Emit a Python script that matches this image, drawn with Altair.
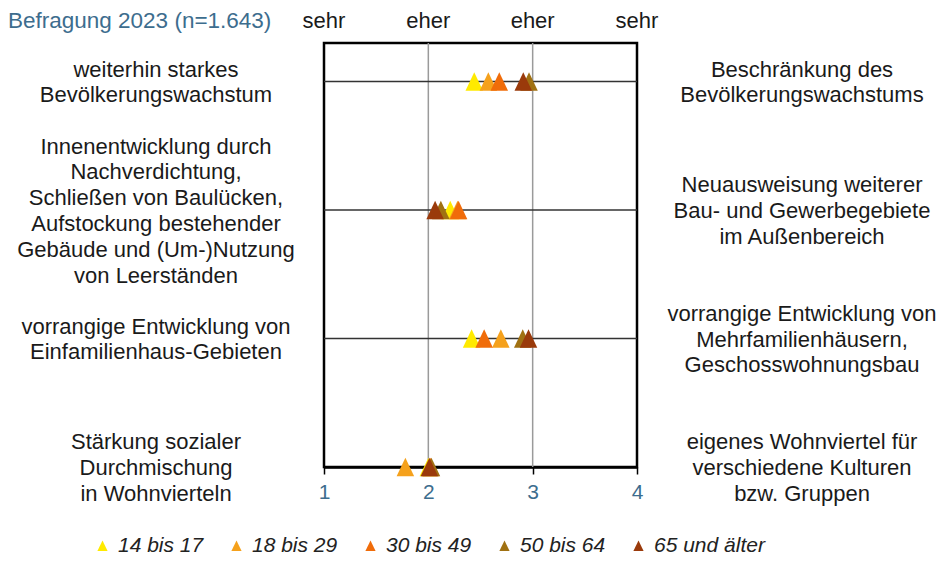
import altair as alt
import pandas as pd

# ---------------- data ----------------
groups = ["14 bis 17", "18 bis 29", "30 bis 49", "50 bis 64", "65 und älter"]
colors = ["#FFEA00", "#F5A11C", "#F06C0A", "#A07112", "#9A3A0B"]

row_pos = [4, 3, 2, 1]
left_labels = [
    "weiterhin starkes\nBevölkerungswachstum",
    "Innenentwicklung durch\nNachverdichtung,\nSchließen von Baulücken,\nAufstockung bestehender\nGebäude und (Um-)Nutzung\nvon Leerständen",
    "vorrangige Entwicklung von\nEinfamilienhaus-Gebieten",
    "Stärkung sozialer\nDurchmischung\nin Wohnvierteln",
]
right_labels = [
    "Beschränkung des\nBevölkerungswachstums",
    "Neuausweisung  weiterer\nBau- und Gewerbegebiete\nim Außenbereich",
    "vorrangige Entwicklung von\nMehrfamilienhäusern,\nGeschosswohnungsbau",
    "eigenes Wohnviertel für\nverschiedene Kulturen\nbzw. Gruppen",
]

v_14_17 = [2.44, 2.21, 2.415, 2.00]
v_18_29 = [2.575, 2.28, 2.695, 1.78]
v_30_49 = [2.68, 2.29, 2.535, 2.02]
v_50_64 = [2.965, 2.12, 2.905, 2.03]
v_65 = [2.91, 2.065, 2.96, 2.01]

scale_ticks = [1, 2, 3, 4]
scale_words = ["sehr", "eher", "eher", "sehr"]
grid_x = [2, 3]
line_rows = [4, 3, 2]
subtitle = "Befragung 2023 (n=1.643)"

# ---------------- tables ----------------
series = [v_14_17, v_18_29, v_30_49, v_50_64, v_65]
rows = []
for g, vals in zip(groups, series):
    for p, v in zip(row_pos, vals):
        rows.append({"gruppe": g, "pos": p, "wert": v})
pts = pd.DataFrame(rows)

lab_rows = []
for p, l in zip(row_pos, left_labels):
    lab_rows.append({"pos": p, "txt": l, "side": "L", "n": l.count("\n") + 1})
for p, r in zip(row_pos, right_labels):
    lab_rows.append({"pos": p, "txt": r, "side": "R", "n": r.count("\n") + 1})
lab = pd.DataFrame(lab_rows)

hdr = pd.DataFrame({"x": scale_ticks, "w": scale_words})
vg = pd.DataFrame({"x": grid_x})
hl = pd.DataFrame({"pos": line_rows})

FONT = "Liberation Sans"
FS = 22
LH = 25.8
xs = alt.Scale(domain=[1, 4], nice=False, zero=False)
ys = alt.Scale(domain=[1, 4.3], nice=False, zero=False)
xa = alt.Axis(values=scale_ticks, grid=False, domainColor="black", domainWidth=2.5,
              tickColor="black", tickWidth=1.5, tickSize=7, labelColor="#3D6D8E",
              labelFontSize=21, labelFont=FONT, labelPadding=7, title=None,
              labelFlush=False, format="d")

tri = "M-0.95,1L0,-1L0.95,1Z"

vlines = alt.Chart(vg).mark_rule(color="#9a9a9a", strokeWidth=1.5).encode(
    x=alt.X("x:Q", scale=xs, axis=xa)
)
hlines = alt.Chart(hl).mark_rule(color="#333333", strokeWidth=1.5).encode(
    y=alt.Y("pos:Q", scale=ys, axis=None)
)

points = alt.Chart(pts).mark_point(filled=True, opacity=1, shape=tri, size=340, strokeWidth=0).encode(
    x=alt.X("wert:Q", scale=xs, axis=xa),
    y=alt.Y("pos:Q", scale=ys, axis=None),
    color=alt.Color("gruppe:N", scale=alt.Scale(domain=groups, range=colors),
                    legend=alt.Legend(title=None, orient="none", legendX=-232, legendY=492,
                                      direction="horizontal", symbolType=tri, symbolSize=115,
                                      symbolStrokeWidth=0, labelFont=FONT, labelFontSize=21,
                                      labelFontStyle="italic", labelColor="#222222",
                                      columnPadding=22, labelOffset=5)),
)

text_layers = []
for n in sorted(lab["n"].unique()):
    for side, px in (("L", -168), ("R", 478)):
        text_layers.append(
            alt.Chart(lab).transform_filter(
                (alt.datum.n == int(n)) & (alt.datum.side == side)
            ).mark_text(font=FONT, fontSize=FS, lineBreak="\n", lineHeight=LH,
                        align="center", baseline="middle", color="#1a1a1a",
                        dy=-(int(n) - 1) / 2 * LH + 1).encode(
                x=alt.value(px),
                y=alt.Y("pos:Q", scale=ys, axis=None),
                text="txt:N",
            )
        )

headers = alt.Chart(hdr).mark_text(font=FONT, fontSize=FS, align="center", baseline="middle",
                                   color="#1a1a1a").encode(
    x=alt.X("x:Q", scale=xs, axis=xa),
    y=alt.value(-22),
    text="w:N",
)
sub = alt.Chart(pd.DataFrame({"t": [subtitle]})).mark_text(
    font=FONT, fontSize=22.5, align="left", baseline="middle", color="#3D6D8E").encode(
    x=alt.value(-316), y=alt.value(-22), text="t:N"
)

chart = alt.layer(vlines, hlines, points, *text_layers, headers, sub).properties(
    width=313, height=424,
    autosize=alt.AutoSizeParams(type="none"),
    padding={"left": 316, "top": 35, "right": 301, "bottom": 88},
    background="white",
).configure_view(stroke="black", strokeWidth=2.5)

chart.save("out.html", embed_options={"renderer": "svg", "actions": False})
